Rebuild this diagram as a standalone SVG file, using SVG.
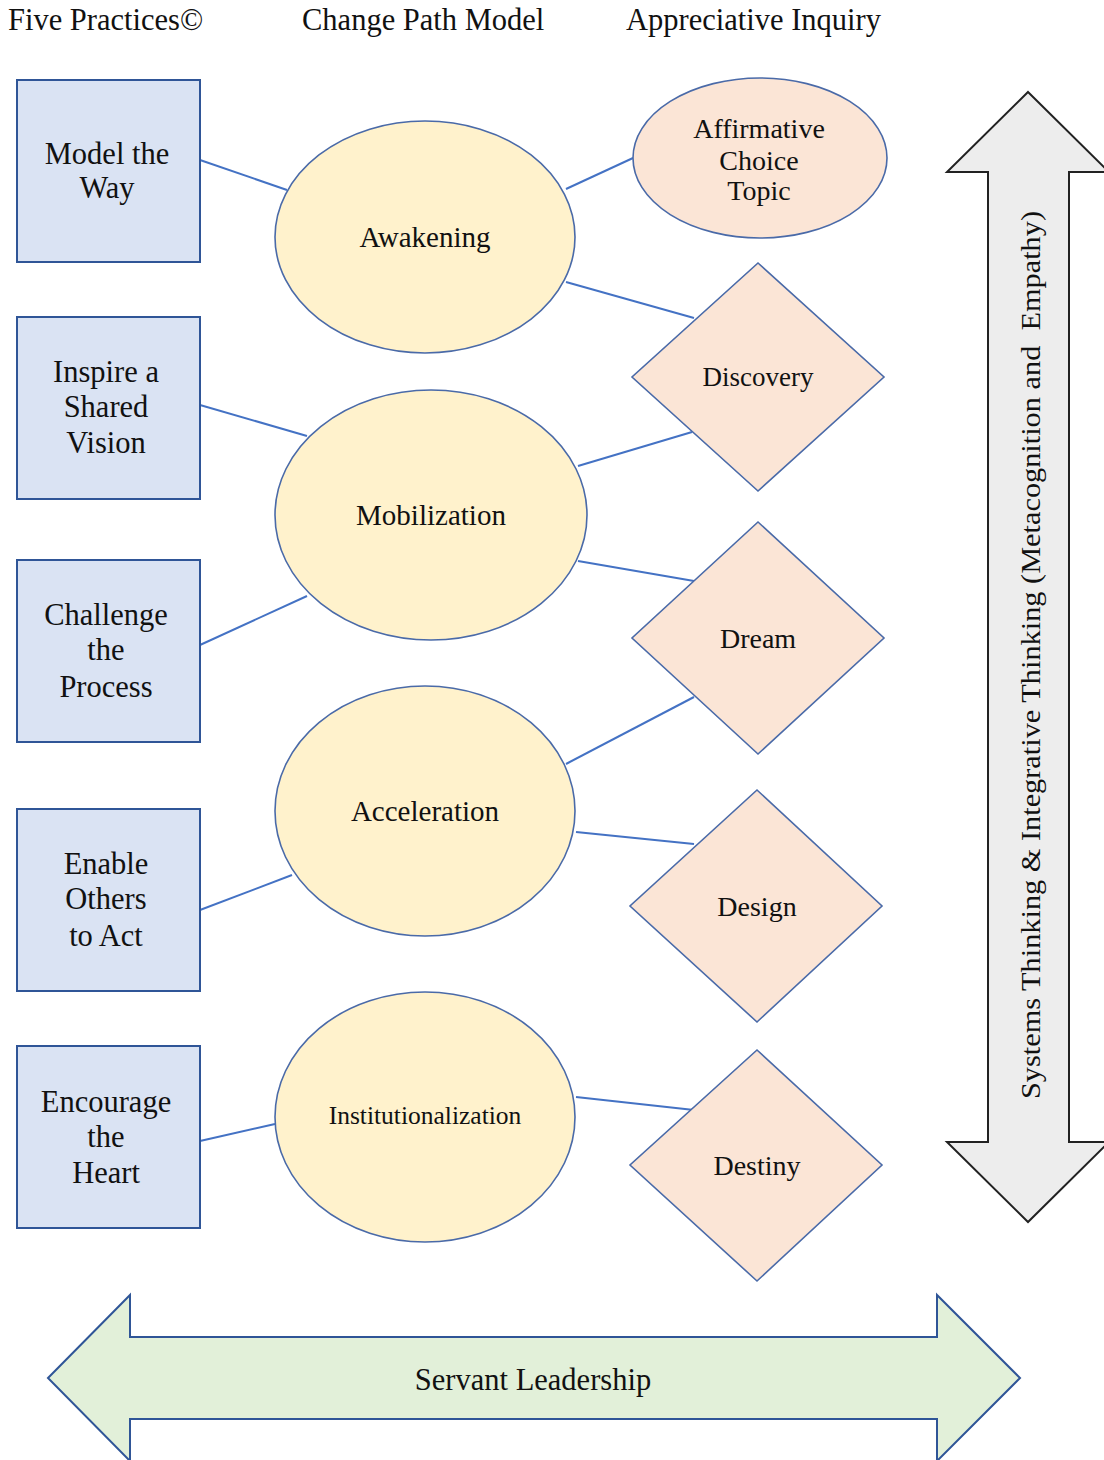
<svg xmlns="http://www.w3.org/2000/svg" width="1104" height="1460" viewBox="0 0 1104 1460">
<style>
text{font-family:"Liberation Serif","Times New Roman",serif;fill:#111;text-anchor:middle}
.h{font-size:30.5px;text-anchor:start}
.t{font-size:28px}
.r{font-size:30.5px}
.rect{fill:#dae3f3;stroke:#2f5597;stroke-width:2}
.ell{fill:#fff2cc;stroke:#4a6aa8;stroke-width:1.6}
.pk{fill:#fbe5d6;stroke:#4a6aa8;stroke-width:1.6}
.conn line{stroke:#4472c4;stroke-width:2}
</style>
<rect width="1104" height="1460" fill="#fff"/>
<text class="h" x="8" y="30">Five Practices©</text>
<text class="h" x="302" y="30">Change Path Model</text>
<text class="h" x="626" y="30">Appreciative Inquiry</text>

<g id="connectors" class="conn">
<line x1="200" y1="160" x2="287" y2="190"/>
<line x1="566" y1="189" x2="633" y2="158"/>
<line x1="566" y1="282" x2="694" y2="318"/>
<line x1="200" y1="405" x2="307" y2="436"/>
<line x1="578" y1="466" x2="692" y2="432"/>
<line x1="578" y1="561" x2="694" y2="581"/>
<line x1="200" y1="645" x2="307" y2="596"/>
<line x1="566" y1="764" x2="694" y2="697"/>
<line x1="576" y1="832" x2="694" y2="844"/>
<line x1="200" y1="910" x2="292" y2="875"/>
<line x1="576" y1="1097" x2="694" y2="1110"/>
<line x1="200" y1="1141" x2="275" y2="1124"/>
</g>

<g id="model-the-way"><rect class="rect" x="17" y="80" width="183" height="182"/>
<text class="t r" x="107" y="164">Model the</text><text class="t r" x="107" y="198">Way</text></g>
<g id="inspire"><rect class="rect" x="17" y="317" width="183" height="182"/>
<text class="t r" x="106" y="382">Inspire a</text><text class="t r" x="106" y="417">Shared</text><text class="t r" x="106" y="453">Vision</text></g>
<g id="challenge"><rect class="rect" x="17" y="560" width="183" height="182"/>
<text class="t r" x="106" y="625">Challenge</text><text class="t r" x="106" y="660">the</text><text class="t r" x="106" y="697">Process</text></g>
<g id="enable"><rect class="rect" x="17" y="809" width="183" height="182"/>
<text class="t r" x="106" y="874">Enable</text><text class="t r" x="106" y="909">Others</text><text class="t r" x="106" y="946">to Act</text></g>
<g id="encourage"><rect class="rect" x="17" y="1046" width="183" height="182"/>
<text class="t r" x="106" y="1112">Encourage</text><text class="t r" x="106" y="1147">the</text><text class="t r" x="106" y="1183">Heart</text></g>

<g id="awakening"><ellipse class="ell" cx="425" cy="237" rx="150" ry="116"/><text class="t" x="425" y="247" style="font-size:29px">Awakening</text></g>
<g id="mobilization"><ellipse class="ell" cx="431" cy="515" rx="156" ry="125"/><text class="t" x="431" y="525" style="font-size:29px">Mobilization</text></g>
<g id="acceleration"><ellipse class="ell" cx="425" cy="811" rx="150" ry="125"/><text class="t" x="425" y="821" style="font-size:29px">Acceleration</text></g>
<g id="institutionalization"><ellipse class="ell" cx="425" cy="1117" rx="150" ry="125"/><text class="t" x="425" y="1124" style="font-size:25.5px">Institutionalization</text></g>

<g id="affirmative"><ellipse class="pk" cx="760" cy="158" rx="127" ry="80"/>
<text class="t" x="759" y="138">Affirmative</text><text class="t" x="759" y="170">Choice</text><text class="t" x="759" y="200">Topic</text></g>
<g id="discovery"><polygon class="pk" points="758,263 884,377 758,491 632,377"/><text class="t" x="758" y="386" style="font-size:27px">Discovery</text></g>
<g id="dream"><polygon class="pk" points="758,522 884,638 758,754 632,638"/><text class="t" x="758" y="648">Dream</text></g>
<g id="design"><polygon class="pk" points="757,790 882,906 757,1022 630,906"/><text class="t" x="757" y="916">Design</text></g>
<g id="destiny"><polygon class="pk" points="757,1050 882,1165 757,1281 630,1165"/><text class="t" x="757" y="1175">Destiny</text></g>

<g id="systems-arrow">
<polygon points="1028,92 1109,172 1069,172 1069,1142 1109,1142 1028,1222 947,1142 988,1142 988,172 947,172" fill="#ededed" stroke="#222" stroke-width="2"/>
<text class="t" transform="translate(1040,655) rotate(-90)" textLength="888" lengthAdjust="spacingAndGlyphs" xml:space="preserve">Systems Thinking &amp; Integrative Thinking (Metacognition and  Empathy)</text>
</g>
<g id="servant-arrow">
<polygon points="48,1378 130,1295 130,1337 937,1337 937,1295 1020,1378 937,1461 937,1419 130,1419 130,1461" fill="#e2f0d9" stroke="#2f5597" stroke-width="2"/>
<text class="t r" x="533" y="1390">Servant Leadership</text>
</g>
</svg>
